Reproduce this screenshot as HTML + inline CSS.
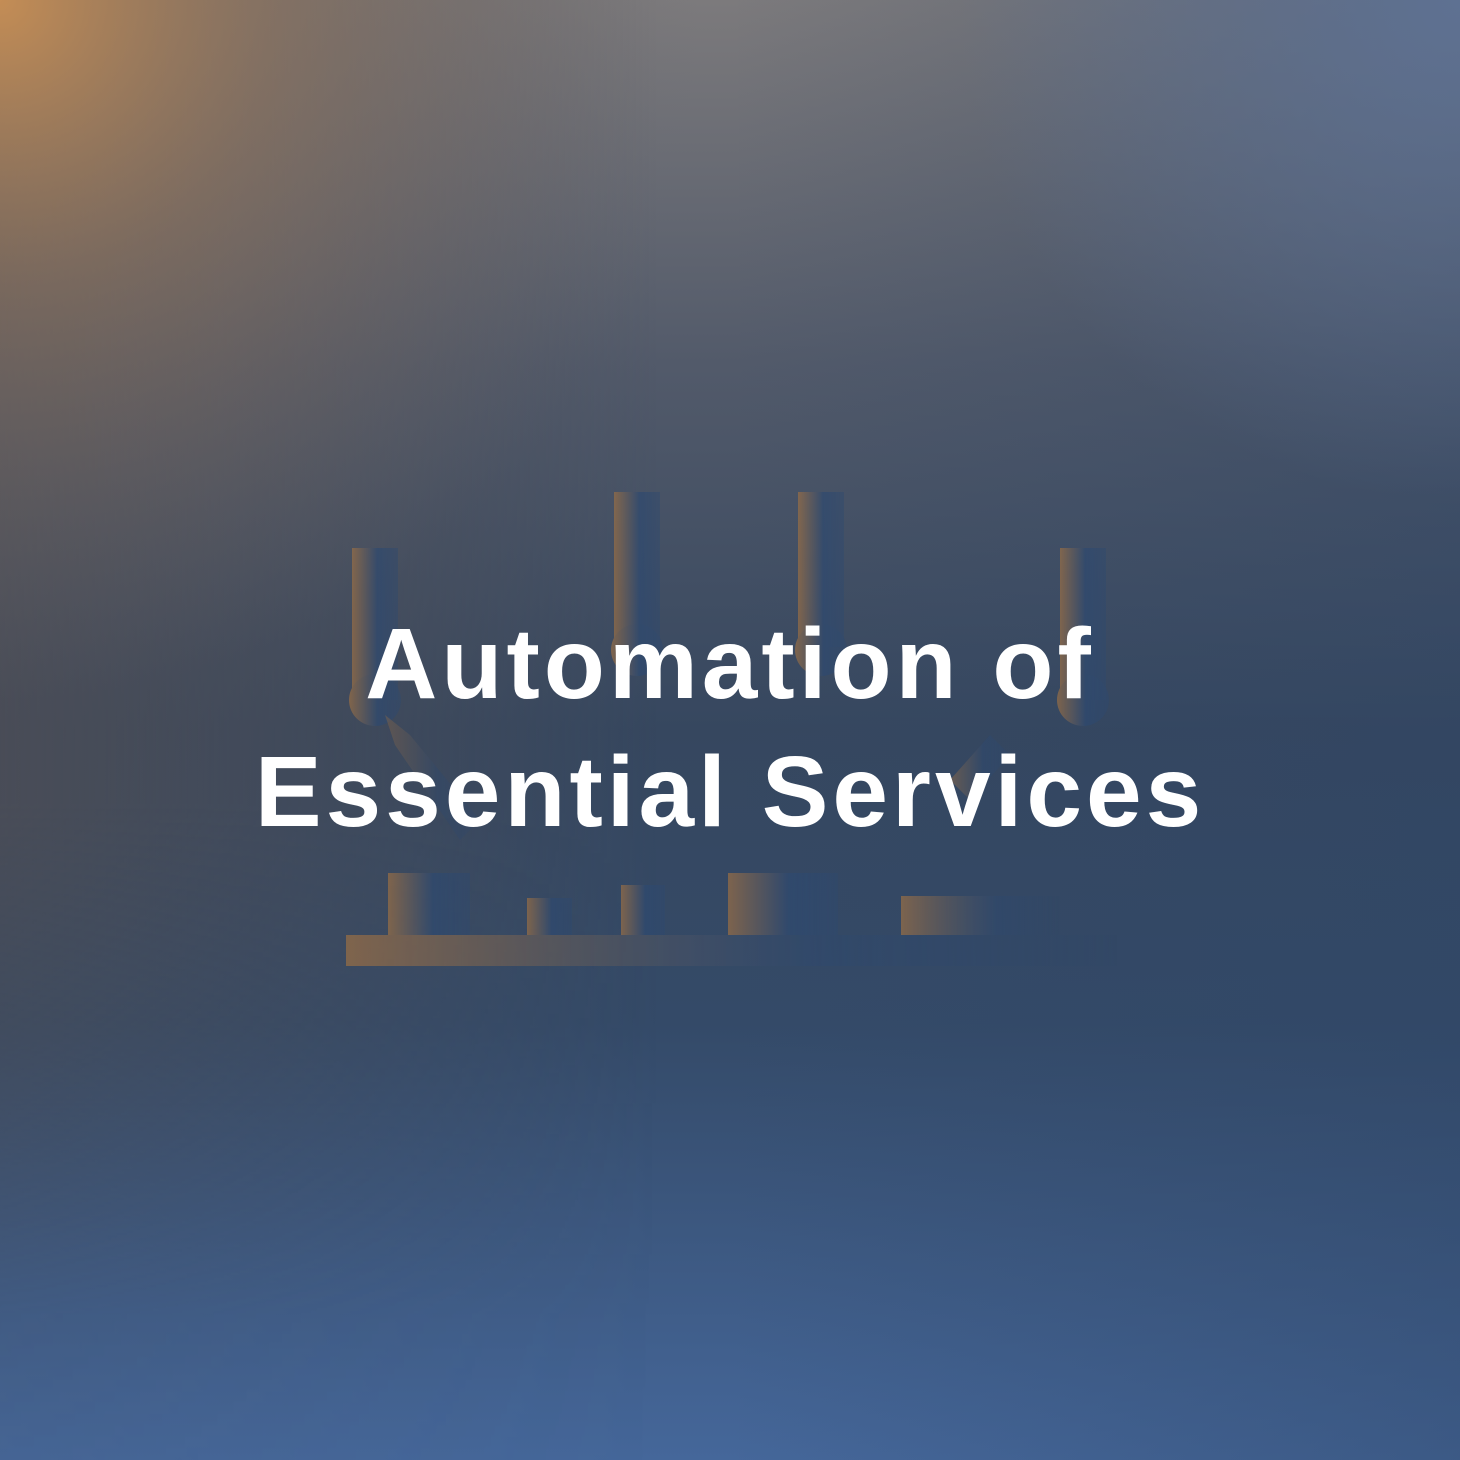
<!DOCTYPE html>
<html><head><meta charset="utf-8"><style>
html,body{margin:0;padding:0;width:1460px;height:1460px;overflow:hidden}
body{position:relative;background:#30445f}
svg{position:absolute;left:0;top:0}
.t{position:absolute;left:0;width:1460px;text-align:center;color:#fff;font-family:"Liberation Sans",sans-serif;font-weight:bold;font-size:100px;letter-spacing:4px;line-height:128px}
</style></head><body>
<svg width="1460" height="1460" viewBox="0 0 1460 1460">
<defs>
<linearGradient id="base" x1="0" y1="0" x2="0" y2="1">
<stop offset="0" stop-color="#7c7a7c"/>
<stop offset="0.25" stop-color="#525a6a"/>
<stop offset="0.5" stop-color="#36475f"/>
<stop offset="0.7" stop-color="#344a68"/>
<stop offset="1" stop-color="#45679a"/>
</linearGradient>
<linearGradient id="left" x1="0" y1="0" x2="1" y2="0">
<stop offset="0" stop-color="#4e4e55" stop-opacity="0.8"/>
<stop offset="0.45" stop-color="#4e4e55" stop-opacity="0"/>
</linearGradient>
<linearGradient id="fade" x1="0" y1="0" x2="0" y2="1">
<stop offset="0" stop-color="#fff"/>
<stop offset="0.55" stop-color="#fff"/>
<stop offset="0.9" stop-color="#fff" stop-opacity="0.15"/>
<stop offset="1" stop-color="#fff" stop-opacity="0.1"/>
</linearGradient>
<mask id="m"><rect width="1460" height="1460" fill="url(#fade)"/></mask>
<linearGradient id="right" x1="0" y1="0" x2="1" y2="0">
<stop offset="0.5" stop-color="#2e4566" stop-opacity="0"/>
<stop offset="1" stop-color="#2e4566" stop-opacity="0.4"/>
</linearGradient>
<radialGradient id="o" gradientUnits="userSpaceOnUse" cx="0" cy="0" r="700">
<stop offset="0" stop-color="#c48d55"/>
<stop offset="0.4" stop-color="#95785f" stop-opacity="0.6"/>
<stop offset="1" stop-color="#6a6a70" stop-opacity="0"/>
</radialGradient>
<radialGradient id="r" gradientUnits="userSpaceOnUse" cx="1460" cy="0" r="500">
<stop offset="0" stop-color="#5e7192"/>
<stop offset="1" stop-color="#5e7192" stop-opacity="0"/>
</radialGradient>
<linearGradient id="h" x1="0" y1="0" x2="1" y2="0">
<stop offset="0" stop-color="#9a6f45"/>
<stop offset="0.55" stop-color="#2f4a70"/>
<stop offset="1" stop-color="#2f4a70" stop-opacity="0.6"/>
</linearGradient>
<linearGradient id="b" x1="0" y1="0" x2="1" y2="0">
<stop offset="0" stop-color="#9a6f45"/>
<stop offset="0.6" stop-color="#2f4a70" stop-opacity="0.6"/>
<stop offset="1" stop-color="#2f4a70" stop-opacity="0"/>
</linearGradient>
</defs>
<rect width="1460" height="1460" fill="url(#base)"/>
<rect width="1460" height="1460" fill="url(#left)" mask="url(#m)"/>
<rect width="1460" height="1460" fill="url(#right)"/>
<rect width="1460" height="1460" fill="url(#r)"/>
<rect width="1460" height="1460" fill="url(#o)"/>
<g opacity="0.72">
<rect x="352" y="548" width="46" height="152" fill="url(#h)"/>
<circle cx="375" cy="700" r="26" fill="url(#h)"/>
<polygon points="385,715 410,735 480,820 460,840 395,745" fill="url(#h)" opacity="0.5"/>
<rect x="614" y="492" width="46" height="155" fill="url(#h)"/>
<circle cx="637" cy="650" r="26" fill="url(#h)"/>
<rect x="798" y="492" width="46" height="155" fill="url(#h)"/>
<circle cx="821" cy="650" r="26" fill="url(#h)"/>
<rect x="1060" y="548" width="46" height="152" fill="url(#h)"/>
<circle cx="1083" cy="700" r="26" fill="url(#h)"/>
<polygon points="950,780 990,735 1010,755 970,800" fill="url(#h)" opacity="0.7"/>
<rect x="346" y="935" width="774" height="31" fill="url(#b)"/>
<rect x="388" y="873" width="82" height="62" fill="url(#h)"/>
<rect x="527" y="898" width="45" height="37" fill="url(#h)"/>
<rect x="621" y="885" width="44" height="50" fill="url(#h)"/>
<rect x="728" y="873" width="110" height="62" fill="url(#h)"/>
<rect x="901" y="896" width="159" height="39" fill="url(#b)"/>
</g>
</svg>
<div class="t" style="top:600px">Automation of<br>Essential Services</div>
</body></html>
